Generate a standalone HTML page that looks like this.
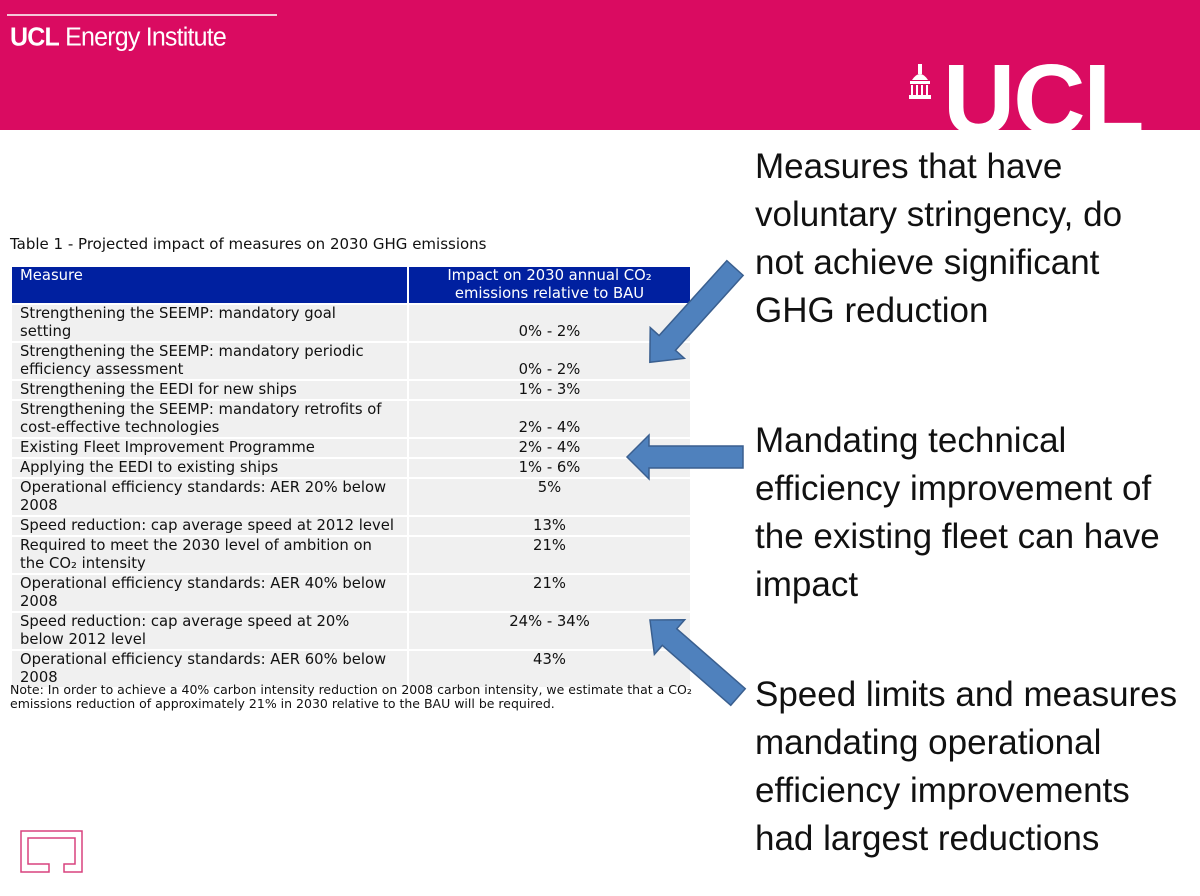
<!DOCTYPE html>
<html><head><meta charset="utf-8"><style>
body{margin:0;width:1200px;height:896px;background:#fff;position:relative;overflow:hidden;font-family:"Liberation Sans",sans-serif}
.hdr{position:absolute;left:0;top:0;width:1200px;height:130px;background:#da0b61;overflow:hidden}
.hline{position:absolute;left:7px;top:14px;width:270px;height:2px;background:#f4c6d8}
.inst{position:absolute;left:10px;top:23px;color:#fff;font-size:25px;letter-spacing:-0.8px;transform:scaleY(1.05)}
.ucl{position:absolute;left:943px;top:50px;color:#fff;font-size:100px;font-weight:bold;letter-spacing:-2px;line-height:100px;white-space:nowrap}
.cap{position:absolute;left:10px;top:235px;font-family:"DejaVu Sans",sans-serif;font-size:15px;color:#111}
table{position:absolute;left:10px;top:265px;width:682px;border-collapse:collapse;font-family:"DejaVu Sans",sans-serif;font-size:14.8px;color:#111;line-height:18px;white-space:nowrap;table-layout:fixed}
td,th{border:2px solid #fff;padding:0 0 0 8px;vertical-align:top;background:#f0f0f0;overflow:hidden}
th{background:#0020a0;color:#fff;font-weight:normal;text-align:left}
td.v{text-align:center;padding:0}
th.v{text-align:center;padding:0}
.note{position:absolute;left:10px;top:683px;font-family:"DejaVu Sans",sans-serif;font-size:12.5px;line-height:14px;color:#111;white-space:nowrap}
.rt{position:absolute;left:755px;font-size:35px;line-height:48px;color:#111;white-space:nowrap}
</style></head><body>
<div class="hdr">
<div class="hline"></div>
<div class="inst"><b>UCL</b> Energy Institute</div>
<svg style="position:absolute;left:906px;top:62px" width="30" height="40"><rect x="12" y="2" width="4" height="10" fill="#fff"/><path d="M6 18 Q14 6 22 18Z" fill="#fff"/><rect x="4" y="19" width="20" height="3" fill="#fff"/><rect x="5" y="23" width="2" height="10" fill="#fff"/><rect x="10" y="23" width="2" height="10" fill="#fff"/><rect x="15" y="23" width="2" height="10" fill="#fff"/><rect x="20" y="23" width="2" height="10" fill="#fff"/><rect x="3" y="33" width="22" height="4" fill="#fff"/></svg>
<div class="ucl">UCL</div>
</div>
<div class="cap">Table 1 - Projected impact of measures on 2030 GHG emissions</div>
<table>
<colgroup><col style="width:397px"><col></colgroup>
<tr style="height:38px"><th>Measure</th><th class="v">Impact on 2030 annual CO₂<br>emissions relative to BAU</th></tr>
<tr style="height:38px"><td>Strengthening the SEEMP: mandatory goal<br>setting</td><td class="v" style="vertical-align:bottom">0% - 2%</td></tr>
<tr style="height:38px"><td>Strengthening the SEEMP: mandatory periodic<br>efficiency assessment</td><td class="v" style="vertical-align:bottom">0% - 2%</td></tr>
<tr style="height:18px"><td>Strengthening the EEDI for new ships</td><td class="v">1% - 3%</td></tr>
<tr style="height:38px"><td>Strengthening the SEEMP: mandatory retrofits of<br>cost-effective technologies</td><td class="v" style="vertical-align:bottom">2% - 4%</td></tr>
<tr style="height:19px"><td>Existing Fleet Improvement Programme</td><td class="v">2% - 4%</td></tr>
<tr style="height:19px"><td>Applying the EEDI to existing ships</td><td class="v">1% - 6%</td></tr>
<tr style="height:38px"><td>Operational efficiency standards: AER 20% below<br>2008</td><td class="v">5%</td></tr>
<tr style="height:19px"><td>Speed reduction: cap average speed at 2012 level</td><td class="v">13%</td></tr>
<tr style="height:37px"><td>Required to meet the 2030 level of ambition on<br>the CO₂ intensity</td><td class="v">21%</td></tr>
<tr style="height:38px"><td>Operational efficiency standards: AER 40% below<br>2008</td><td class="v">21%</td></tr>
<tr style="height:38px"><td>Speed reduction: cap average speed at 20%<br>below 2012 level</td><td class="v">24% - 34%</td></tr>
<tr style="height:38px"><td>Operational efficiency standards: AER 60% below<br>2008</td><td class="v">43%</td></tr>
</table>
<div class="note">Note: In order to achieve a 40% carbon intensity reduction on 2008 carbon intensity, we estimate that a CO₂<br>emissions reduction of approximately 21% in 2030 relative to the BAU will be required.</div>
<div class="rt" style="top:143px">Measures that have<br>voluntary stringency, do<br>not achieve significant<br>GHG reduction</div>
<div class="rt" style="top:417px">Mandating technical<br>efficiency improvement of<br>the existing fleet can have<br>impact</div>
<div class="rt" style="top:671px">Speed limits and measures<br>mandating operational<br>efficiency improvements<br>had largest reductions</div>
<svg style="position:absolute;left:0;top:0" width="1200" height="896">
<g fill="#4f81bd" stroke="#3a5f8f" stroke-width="1.5">
<polygon transform="translate(735,268) rotate(132.1)" points="0,-11 101,-11 101,-23 127,0 101,23 101,11 0,11"/>
<polygon transform="translate(743,457) rotate(180)" points="0,-11 94,-11 94,-22 116,0 94,22 94,11 0,11"/>
<polygon transform="translate(738,697) rotate(221.2)" points="0,-11 91,-11 91,-23 117,0 91,23 91,11 0,11"/>
</g>
<path d="M21 831 H82 V872 H64 V864 H75 V838 H28 V864 H49 V872 H21 Z" fill="none" stroke="#d8427e" stroke-width="1.5"/>
</svg>
</body></html>
